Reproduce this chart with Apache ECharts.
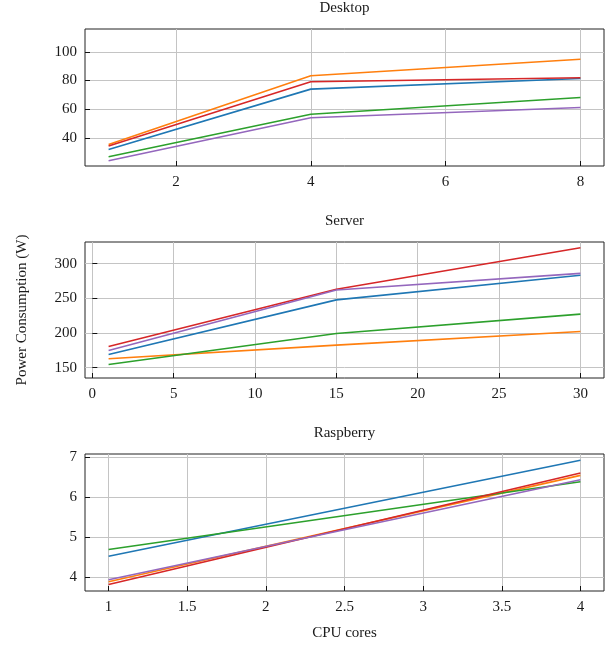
<!DOCTYPE html>
<html>
<head>
<meta charset="utf-8">
<script src="https://cdn.jsdelivr.net/npm/echarts@6/dist/echarts.min.js"></script>
<style>
html,body{margin:0;padding:0;background:#fff;}
#chart{width:613px;height:647px;}
</style>
</head>
<body>
<div id="chart"></div>
<script>
// ---- data ----
const seriesNames = ['Series 1', 'Series 2', 'Series 3', 'Series 4', 'Series 5'];
const colors = ['#1f77b4', '#ff7f0e', '#2ca02c', '#d62728', '#9467bd'];

const desktopCores = [1, 4, 8];
const desktopBlue   = [31.9, 74.0, 81.4];
const desktopOrange = [35.4, 83.3, 94.9];
const desktopGreen  = [26.8, 56.5, 68.2];
const desktopRed    = [34.2, 79.1, 81.9];
const desktopPurple = [24.0, 54.0, 61.2];

const serverCores = [1, 15, 30];
const serverBlue   = [169.1, 247.8, 283.2];
const serverOrange = [163.0, 182.6, 202.2];
const serverGreen  = [154.7, 199.3, 227.2];
const serverRed    = [180.6, 263.1, 322.9];
const serverPurple = [174.9, 262.1, 286.0];

const raspCores = [1, 4];
const raspBlue   = [4.52, 6.93];
const raspOrange = [3.88, 6.55];
const raspGreen  = [4.69, 6.39];
const raspRed    = [3.81, 6.61];
const raspPurple = [3.93, 6.44];

const desktopXTicks = [2, 4, 6, 8];
const desktopYTicks = [40, 60, 80, 100];
const serverXTicks = [0, 5, 10, 15, 20, 25, 30];
const serverYTicks = [150, 200, 250, 300];
const raspXTicks = [1, 1.5, 2, 2.5, 3, 3.5, 4];
const raspYTicks = [4, 5, 6, 7];

const titles = ['Desktop', 'Server', 'Raspberry'];
const yLabel = 'Power Consumption (W)';
const xLabel = 'CPU cores';

// ---- build ----
const FONT = '"Liberation Serif", "DejaVu Serif", serif';
const panels = [
  {x: desktopCores, ys: [desktopBlue, desktopOrange, desktopGreen, desktopRed, desktopPurple],
   xt: desktopXTicks, yt: desktopYTicks, xmin: 0.65, xmax: 8.35, ymin: 20.3, ymax: 116, top: 29, h: 137},
  {x: serverCores, ys: [serverBlue, serverOrange, serverGreen, serverRed, serverPurple],
   xt: serverXTicks, yt: serverYTicks, xmin: -0.45, xmax: 31.45, ymin: 135.2, ymax: 331.2, top: 242, h: 136},
  {x: raspCores, ys: [raspBlue, raspOrange, raspGreen, raspRed, raspPurple],
   xt: raspXTicks, yt: raspYTicks, xmin: 0.85, xmax: 4.15, ymin: 3.647, ymax: 7.086, top: 454, h: 137}
];

const grid = [], xAxis = [], yAxis = [], series = [], graphic = [];
const L = 85, W = 519;
panels.forEach((p, i) => {
  grid.push({left: L, width: W, top: p.top, height: p.h, show: true, borderColor: '#222', borderWidth: 1, backgroundColor: 'transparent'});
  const common = {
    gridIndex: i, type: 'value',
    axisLine: {show: false},
    axisTick: {show: true, inside: true, length: 5, lineStyle: {color: '#111', width: 1}},
    splitLine: {show: true, lineStyle: {color: '#c4c4c4', width: 1}},
    axisLabel: {color: '#1a1a1a', fontFamily: FONT, fontSize: 15, margin: 8}
  };
  xAxis.push(Object.assign({}, common, {
    min: p.xmin, max: p.xmax,
    axisTick: Object.assign({}, common.axisTick, {customValues: p.xt}),
    axisLabel: Object.assign({}, common.axisLabel, {customValues: p.xt, margin: 9})
  }));
  yAxis.push(Object.assign({}, common, {
    min: p.ymin, max: p.ymax,
    axisTick: Object.assign({}, common.axisTick, {customValues: p.yt}),
    axisLabel: Object.assign({}, common.axisLabel, {customValues: p.yt})
  }));
  p.ys.forEach((vals, k) => {
    series.push({
      name: seriesNames[k], type: 'line', xAxisIndex: i, yAxisIndex: i,
      data: p.x.map((xv, j) => [xv, vals[j]]),
      showSymbol: false, symbol: 'none', silent: true,
      lineStyle: {color: colors[k], width: 1.6},
      itemStyle: {color: colors[k]},
      z: 3 + k
    });
  });
  graphic.push({type: 'text', x: L + W / 2, y: p.top - 21,
    style: {text: titles[i], font: '15px ' + FONT, fill: '#1a1a1a', textAlign: 'center', textVerticalAlign: 'middle'}});
});
graphic.push({type: 'text', x: 22, y: 310, rotation: Math.PI / 2,
  style: {text: yLabel, font: '15px ' + FONT, fill: '#1a1a1a', textAlign: 'center', textVerticalAlign: 'middle'}});
graphic.push({type: 'text', x: L + W / 2, y: 633,
  style: {text: xLabel, font: '15px ' + FONT, fill: '#1a1a1a', textAlign: 'center', textVerticalAlign: 'middle'}});

const chart = echarts.init(document.getElementById('chart'), null, {renderer: 'canvas'});
chart.setOption({
  animation: false,
  backgroundColor: '#fff',
  grid, xAxis, yAxis, series, graphic
});
</script>
</body>
</html>
